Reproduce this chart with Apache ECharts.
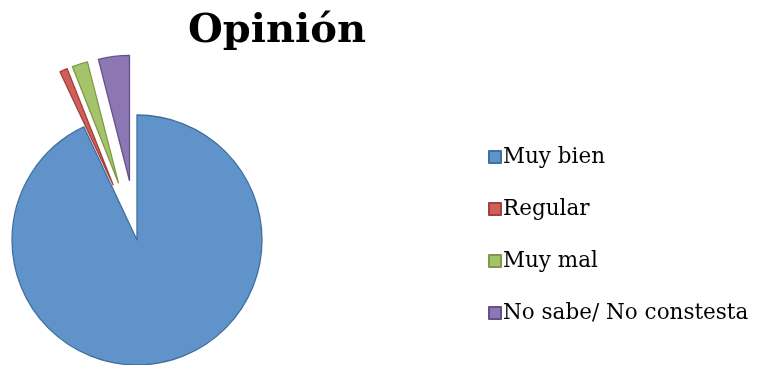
<!DOCTYPE html>
<html><head><meta charset="utf-8">
<script src="https://cdn.jsdelivr.net/npm/echarts@6/dist/echarts.min.js"></script>
<style>html,body{margin:0;padding:0;background:#fff}#c{width:761px;height:365px}</style>
</head><body><div id="c"></div>
<script>
var categories = ['Muy bien', 'Regular', 'Muy mal', 'No sabe/ No constesta'];
var values = [93, 1, 2, 4];
var exploded = [false, true, true, true];
var fills = ['#5F93CA', '#CF5F5B', '#A5C36A', '#8D77B2'];
var borders = ['#41709F', '#A3403C', '#7E9A47', '#66508A'];

var chart = echarts.init(document.getElementById('c'));
chart.setOption({
  animation: false,
  title: {
    text: 'Opinión', left: 272, top: 7, textAlign: 'center',
    textStyle: { fontFamily: 'DejaVu Serif', fontWeight: 'bold', fontSize: 40, color: '#000' }
  },
  legend: {
    orient: 'vertical', left: 483, top: 141, itemGap: 30,
    itemWidth: 12, itemHeight: 12, icon: 'rect',
    textStyle: { fontFamily: 'DejaVu Serif', fontSize: 21.5, lineHeight: 22, color: '#000', padding: [0,0,0,-3] },
    data: categories
  },
  series: [{
    type: 'pie', center: [137, 240], radius: 125, startAngle: 90,
    selectedMode: 'multiple', selectedOffset: 60,
    label: { show: false }, labelLine: { show: false },
    emphasis: { disabled: true },
    data: categories.map(function (c, i) {
      return { name: c, value: values[i], selected: exploded[i],
        itemStyle: { color: fills[i], borderColor: borders[i], borderWidth: 1.3 } };
    })
  }]
});
</script></body></html>
